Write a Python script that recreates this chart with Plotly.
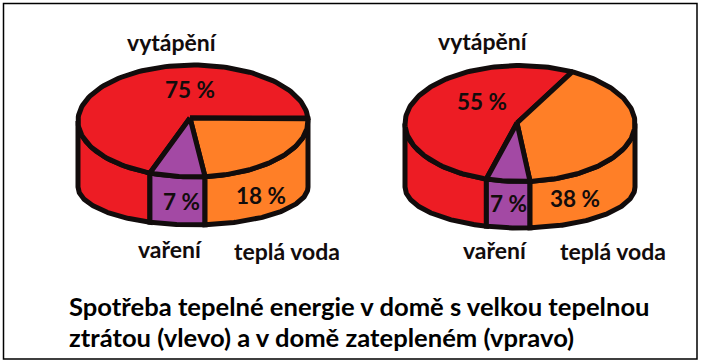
import numpy as np
import plotly.graph_objects as go

categories = ["vytápění", "vaření", "teplá voda"]
left_values = [75, 7, 18]
right_values = [55, 7, 38]
slice_colors = ["#ED1C24", "#A349A4", "#FF7F27"]
caption_lines = ["Spotřeba tepelné energie v domě s velkou tepelnou",
                 "ztrátou (vlevo) a v domě zatepleném (vpravo)"]
# The reference is hand drawn: its slice edges (degrees on the ellipse, clockwise
# from the right) are read from the picture and are not strictly proportional.
left_edges = [112, -3, 84]     # red end, orange start, orange end
right_edges = [107, -63, 85]   # red end, orange start, orange end

INK = "#120c0c"
LW = 5
FONT = "Lato"
W, H = 702, 364

fig = go.Figure()


def arc(cx, cy, a, b, t0, t1, n=120):
    t = np.radians(np.linspace(t0, t1, n))
    return cx + a * np.cos(t), cy + b * np.sin(t)


def poly(xs, ys, color):
    fig.add_trace(go.Scatter(
        x=list(xs), y=list(ys), mode="lines", fill="toself", fillcolor=color,
        line=dict(color=INK, width=LW),
        hoverinfo="skip", showlegend=False))


def pie(cx, cy, a, b, apex, bcy, bb, red_end, orange_start, orange_end):
    spans = [(red_end, 180, slice_colors[0]),
             (orange_end, red_end, slice_colors[1]),
             (0, orange_end, slice_colors[2])]
    for t0, t1, col in spans:
        tx, ty = arc(cx, cy, a, b, t0, t1)
        bx, by = arc(cx, bcy, a, bb, t1, t0)
        poly(np.r_[tx, bx, tx[0]], np.r_[ty, by, ty[0]], col)
    ox, oy = arc(cx, cy, a, b, orange_start, orange_end)
    rx, ry = arc(cx, cy, a, b, red_end, orange_start + 360)
    px, py = arc(cx, cy, a, b, orange_end, red_end)
    ax, ay = apex
    poly(np.r_[ax, rx, ax], np.r_[ay, ry, ay], slice_colors[0])
    poly(np.r_[ax, ox, ax], np.r_[ay, oy, ay], slice_colors[2])
    poly(np.r_[ax, px, ax], np.r_[ay, py, ay], slice_colors[1])


pie(193, 121, 115, 56, (190, 118), 187, 38, *left_edges)
pie(520, 123.5, 115, 58, (517, 123), 187, 41, *right_edges)


def label(x, y, text, size=23):
    fig.add_annotation(x=x, y=y, text=f"<b>{text}</b>", showarrow=False,
                       font=dict(family=FONT, size=size, color=INK),
                       xanchor="center", yanchor="middle")


label(172, 42, categories[0])
label(170, 249, categories[1])
label(287, 251, categories[2])
label(190, 89, f"{left_values[0]} %", 22.5)
label(181, 201, f"{left_values[1]} %", 22.5)
label(261, 195, f"{left_values[2]} %", 22.5)

label(483, 41, categories[0])
label(495, 250, categories[1])
label(613, 251, categories[2])
label(482, 101, f"{right_values[0]} %", 22.5)
label(508, 203, f"{right_values[1]} %", 22.5)
label(575, 198, f"{right_values[2]} %", 22.5)

for y, line in zip([306, 337], caption_lines):
    fig.add_annotation(x=67, y=y, text=f"<b>{line}</b>", showarrow=False,
                       font=dict(family=FONT, size=25.6, color="#000000"),
                       xanchor="left", yanchor="middle")

fig.update_layout(
    width=W, height=H, margin=dict(l=0, r=0, t=0, b=0),
    paper_bgcolor="white", plot_bgcolor="white", showlegend=False,
    xaxis=dict(range=[0, W], visible=False, fixedrange=True),
    yaxis=dict(range=[H, 0], visible=False, fixedrange=True),
    shapes=[dict(type="rect", xref="x", yref="y", x0=3.5, x1=697, y0=3.5, y1=359,
                 line=dict(color="#000000", width=1.5))],
)
fig.write_html("out.html", config={"displayModeBar": False},
               post_script="document.body.style.margin='0';document.body.style.overflow='hidden';")
